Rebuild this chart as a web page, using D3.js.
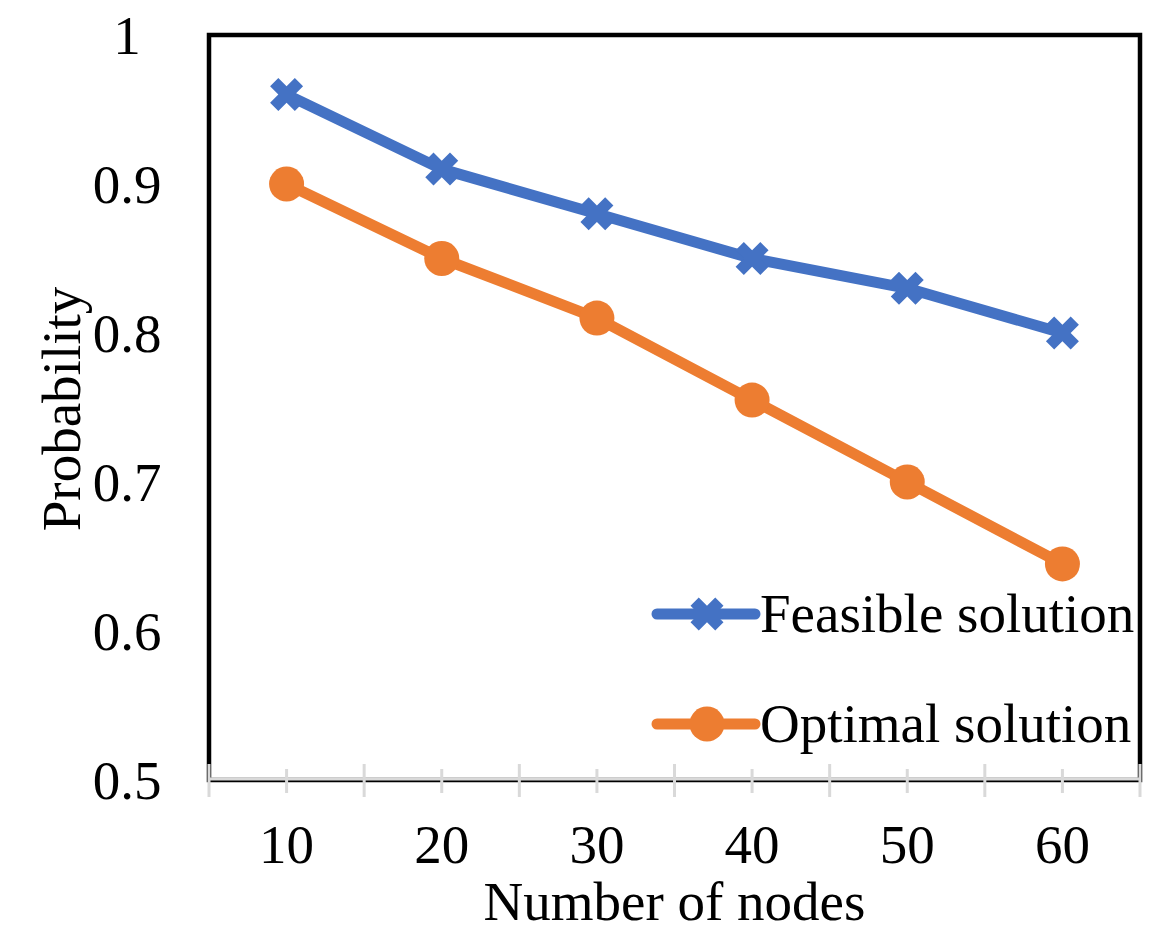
<!DOCTYPE html>
<html>
<head>
<meta charset="utf-8">
<script src="https://cdn.jsdelivr.net/npm/d3@7"></script>
<style>
  html, body { margin: 0; padding: 0; background: #fff; }
  text { font-family: "Liberation Serif", "Times New Roman", serif; fill: #000; }
</style>
</head>
<body>
<svg id="chart" width="1170" height="941"></svg>
<script>
const categories = ["10", "20", "30", "40", "50", "60"];
const feasible = [0.96, 0.91, 0.88, 0.85, 0.83, 0.80];
const optimal = [0.90, 0.85, 0.81, 0.755, 0.70, 0.645];
const yTicks = [0.5, 0.6, 0.7, 0.8, 0.9, 1];
const yTickLabels = ["0.5", "0.6", "0.7", "0.8", "0.9", "1"];
const seriesNames = ["Feasible solution", "Optimal solution"];
const colors = ["#4472C4", "#ED7D31"];

const svg = d3.select("#chart");
const L = 209, R = 1140, T = 35, B = 780;
const x = d3.scaleBand().domain(categories).range([L, R]).padding(0);
const y = d3.scaleLinear().domain([0.5, 1]).range([B, T]);
const fs = 55;

// plot border
svg.append("rect").attr("x", L).attr("y", T).attr("width", R - L).attr("height", B - T)
  .attr("fill", "none").attr("stroke", "#000").attr("stroke-width", 4.5);

// x axis line (gray)
const axY = 779;
svg.append("line").attr("x1", L - 1).attr("x2", R + 1).attr("y1", axY).attr("y2", axY)
  .attr("stroke", "#d9d9d9").attr("stroke-width", 3);
const bounds = categories.map(c => x(c)).concat([x(categories[categories.length - 1]) + x.bandwidth()]);
svg.selectAll(".majt").data(bounds).enter().append("line")
  .attr("x1", d => d).attr("x2", d => d).attr("y1", axY - 15).attr("y2", axY + 18)
  .attr("stroke", "#d9d9d9").attr("stroke-width", 3);
svg.selectAll(".mint").data(categories).enter().append("line")
  .attr("x1", d => x(d) + x.bandwidth() / 2).attr("x2", d => x(d) + x.bandwidth() / 2)
  .attr("y1", axY - 10).attr("y2", axY + 14)
  .attr("stroke", "#d9d9d9").attr("stroke-width", 3);

// x tick labels
svg.selectAll(".xl").data(categories).enter().append("text")
  .attr("x", d => x(d) + x.bandwidth() / 2).attr("y", 863)
  .attr("text-anchor", "middle").attr("font-size", fs).text(d => d);

// y tick labels
svg.selectAll(".yl").data(yTicks).enter().append("text")
  .attr("x", 127).attr("y", d => y(d) + 19)
  .attr("text-anchor", "middle").attr("font-size", fs).text((d, i) => yTickLabels[i]);

// axis titles
svg.append("text").attr("x", (L + R) / 2).attr("y", 920).attr("text-anchor", "middle")
  .attr("font-size", fs).text("Number of nodes");
svg.append("text").attr("transform", "translate(80,409) rotate(-90)").attr("text-anchor", "middle")
  .attr("font-size", fs).text("Probability");

const cx = d => x(d) + x.bandwidth() / 2;
const line = d3.line().x((d, i) => cx(categories[i])).y(d => y(d));
const xSym = d3.symbol().type(d3.symbolCross).size(680);

[feasible, optimal].forEach((vals, s) => {
  svg.append("path").datum(vals).attr("d", line).attr("fill", "none")
    .attr("stroke", colors[s]).attr("stroke-width", 11).attr("stroke-linejoin", "round");
  if (s === 0) {
    svg.selectAll(".m0").data(vals).enter().append("path")
      .attr("d", xSym).attr("fill", colors[s])
      .attr("transform", (d, i) => `translate(${cx(categories[i])},${y(d)}) rotate(45)`);
  } else {
    svg.selectAll(".m1").data(vals).enter().append("circle")
      .attr("cx", (d, i) => cx(categories[i])).attr("cy", d => y(d)).attr("r", 17.5)
      .attr("fill", colors[s]);
  }
});

// legend
const legY = [614, 724];
seriesNames.forEach((name, s) => {
  const g = svg.append("g");
  g.append("line").attr("x1", 657).attr("x2", 755).attr("y1", legY[s]).attr("y2", legY[s])
    .attr("stroke", colors[s]).attr("stroke-width", 11).attr("stroke-linecap", "round");
  if (s === 0) {
    g.append("path").attr("d", xSym).attr("fill", colors[s])
      .attr("transform", `translate(707,${legY[s]}) rotate(45)`);
  } else {
    g.append("circle").attr("cx", 707).attr("cy", legY[s]).attr("r", 17.5).attr("fill", colors[s]);
  }
  g.append("text").attr("x", 760).attr("y", legY[s] + 18).attr("font-size", fs).text(name);
});
</script>
</body>
</html>
